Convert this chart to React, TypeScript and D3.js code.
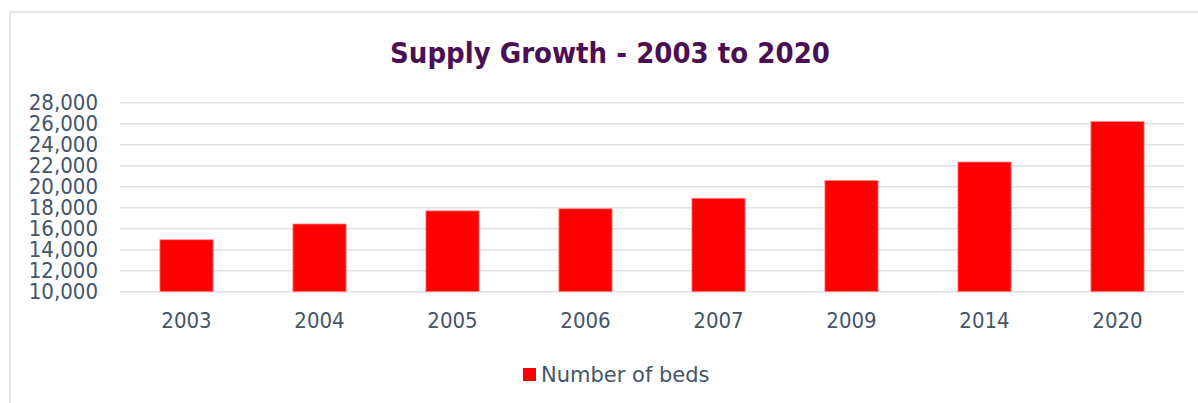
import { scaleBand, scaleLinear, format } from 'd3';

const years = ['2003', '2004', '2005', '2006', '2007', '2009', '2014', '2020'];
const beds = [14950, 16450, 17700, 17900, 18900, 20600, 22350, 26200];
const yTicks = [10000, 12000, 14000, 16000, 18000, 20000, 22000, 24000, 26000, 28000];

const seriesName = 'Number of beds';
const title = 'Supply Growth - 2003 to 2020';

export default function App() {
  const width = 1198;
  const height = 403;
  const margin = { top: 102.7, bottom: 111.3, left: 120, right: 14 };

  const xScale = scaleBand<string>()
    .domain(years)
    .range([margin.left, width - margin.right])
    .paddingInner(0.6)
    .paddingOuter(0.3);

  const yScale = scaleLinear()
    .domain([10000, 28000])
    .range([height - margin.bottom, margin.top]);

  const fmt = format(',');
  const textColor = '#44546A';

  return (
    <svg
      width={width}
      height={height}
      style={{ position: 'absolute', left: 0, top: 0 }}>
      <rect x={0} y={0} width={width} height={height} fill='#fff' />
      <rect
        x={10}
        y={12}
        width={width + 20}
        height={height + 20}
        fill='none'
        stroke='#D9E1E8'
        strokeWidth={1.5}
      />
      <text
        x={610}
        y={63}
        textAnchor='middle'
        fontFamily='DejaVu Sans Condensed'
        fontWeight='bold'
        fontSize={29}
        fill='#4B0F55'>
        {title}
      </text>
      <g>
        {yTicks.map((t) => (
          <g key={t}>
            <line
              x1={margin.left}
              x2={width - margin.right}
              y1={yScale(t)}
              y2={yScale(t)}
              stroke='#DDE2E8'
              strokeWidth={1.5}
            />
            <text
              x={98}
              y={yScale(t) + 7.5}
              textAnchor='end'
              fontFamily='DejaVu Sans Condensed'
              fontSize={22}
              fill={textColor}>
              {fmt(t)}
            </text>
          </g>
        ))}
      </g>
      <g>
        {years.map((yr, i) => (
          <g key={yr}>
            <rect
              x={xScale(yr)}
              y={yScale(beds[i])}
              width={xScale.bandwidth()}
              height={yScale(10000) - yScale(beds[i])}
              fill='#FF0000'
              stroke='#FF8A8A'
              strokeWidth={0.8}
            />
            <text
              x={(xScale(yr) ?? 0) + xScale.bandwidth() / 2}
              y={328}
              textAnchor='middle'
              fontFamily='DejaVu Sans Condensed'
              fontSize={22}
              fill={textColor}>
              {yr}
            </text>
          </g>
        ))}
      </g>
      <g>
        <rect x={523} y={368} width={13} height={13} fill='#FF0000' />
        <text
          x={541}
          y={381.5}
          fontFamily='DejaVu Sans'
          fontSize={21}
          fill={textColor}>
          {seriesName}
        </text>
      </g>
    </svg>
  );
}
